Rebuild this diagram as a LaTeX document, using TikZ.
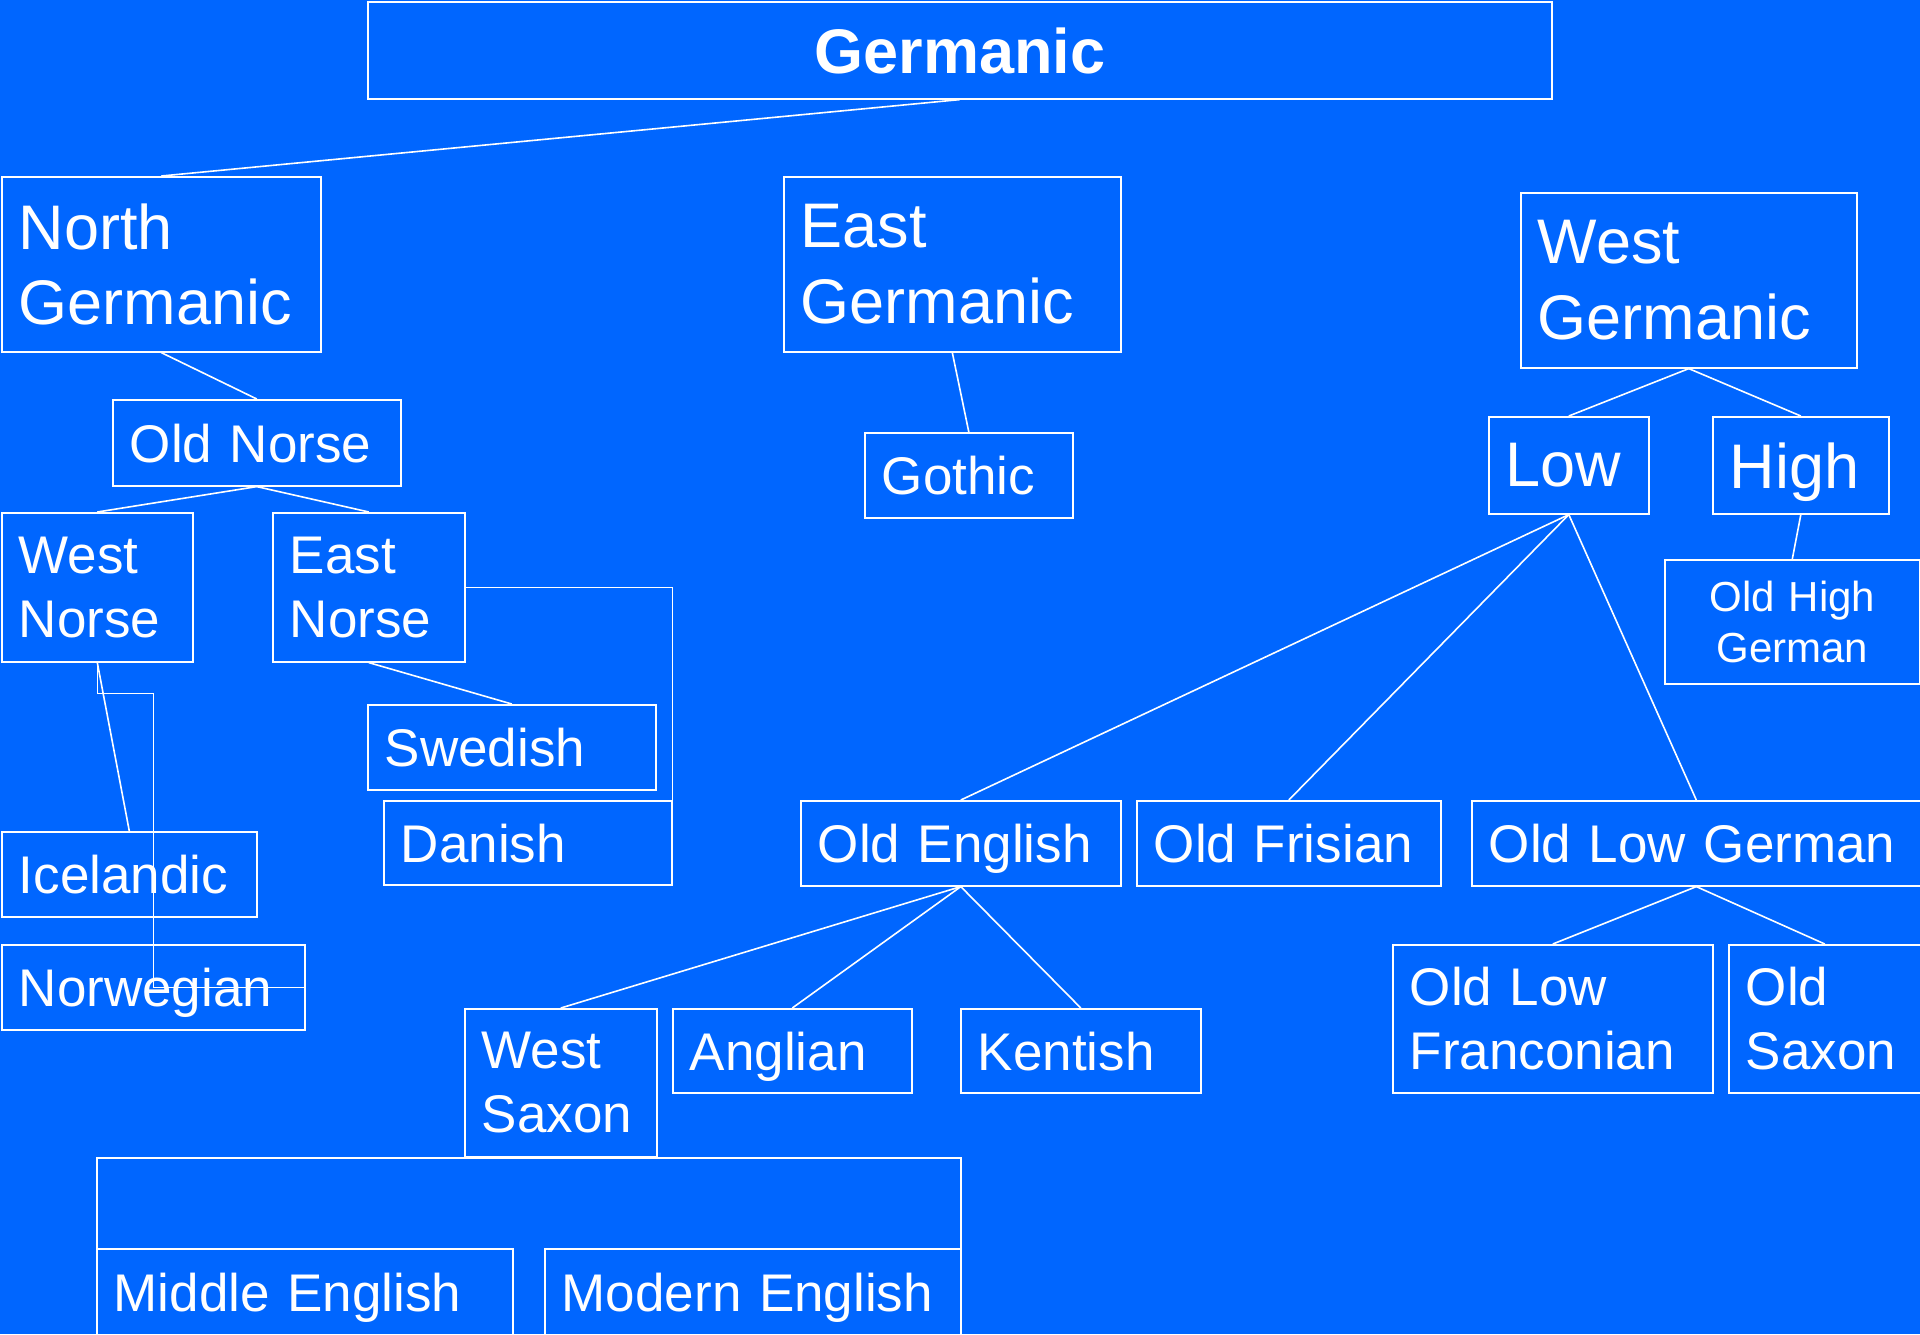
\documentclass[tikz,border=0pt]{standalone}
\usepackage{fontspec}
\setmainfont{Liberation Sans}
\definecolor{bgblue}{RGB}{0,102,255}
\newcommand\fbig{\fontsize{31.5pt}{37.8pt}\selectfont}
\newcommand\fmid{\fontsize{26.5pt}{31.8pt}\selectfont}
\newcommand\fsml{\fontsize{21pt}{25.2pt}\selectfont}
\begin{document}
\begin{tikzpicture}[x=0.5pt,y=-0.5pt,
  bx/.style={draw=white, line width=0.8pt, text=white, anchor=north west,
    inner xsep=8.5pt, inner ysep=0pt, align=left, font=\fmid},
  one/.style={text depth=0pt},
  ln/.style={draw=white, line width=0.8pt}]
\fill[bgblue] (0,0) rectangle (1920,1334);
\useasboundingbox (0,0) rectangle (1920,1334);

\node[bx, font=\fbig\bfseries, align=center, one, minimum width=592pt, minimum height=48.5pt, text width=575pt] (germ) at (367,1) {Germanic};

\node[bx, font=\fbig, minimum width=159.5pt, minimum height=87.5pt, text width=142.5pt] (ng) at (1,176) {North\\Germanic};
\node[bx, font=\fbig, minimum width=168.5pt, minimum height=87.5pt, text width=151.5pt] (eg) at (783,176) {East\\Germanic};
\node[bx, font=\fbig, minimum width=168pt, minimum height=87.5pt, text width=151pt] (wg) at (1520,192) {West\\Germanic};

\node[bx, one, minimum width=144pt, minimum height=43pt, text width=127pt] (on) at (112,399) {Old Norse};
\node[bx, minimum width=95.5pt, minimum height=74.5pt, text width=78.5pt] (wn) at (1,512) {West\\Norse};
\node[bx, minimum width=96pt, minimum height=74.5pt, text width=79pt] (en) at (272,512) {East\\Norse};
\node[bx, one, minimum width=144pt, minimum height=42.5pt, text width=127pt] (sw) at (367,704) {Swedish};
\node[bx, one, minimum width=144pt, minimum height=42pt, text width=127pt] (da) at (383,800) {Danish};
\node[bx, one, minimum width=127.5pt, minimum height=42.5pt, text width=110.5pt] (ic) at (1,831) {Icelandic};
\node[bx, one, minimum width=151.5pt, minimum height=42.5pt, text width=134.5pt] (nw) at (1,944) {Norwegian};

\node[bx, one, minimum width=104pt, minimum height=42.5pt, text width=87pt] (go) at (864,432) {Gothic};

\node[bx, font=\fbig, one, minimum width=80pt, minimum height=48.5pt, text width=63pt] (low) at (1488,416) {Low};
\node[bx, font=\fbig, one, minimum width=88pt, minimum height=48.5pt, text width=71pt] (high) at (1712,416) {High};
\node[bx, font=\fsml, align=center, minimum width=127.5pt, minimum height=62pt, text width=110.5pt] (ohg) at (1664,559) {Old High\\German};

\node[bx, one, minimum width=160pt, minimum height=42.5pt, text width=143pt] (oe) at (800,800) {Old English};
\node[bx, one, minimum width=152pt, minimum height=42.5pt, text width=135pt] (of) at (1136,800) {Old Frisian};
\node[bx, one, minimum width=224.5pt, minimum height=42.5pt, text width=207.5pt] (olg) at (1471,800) {Old Low German};
\node[bx, minimum width=160pt, minimum height=74pt, text width=143pt] (olf) at (1392,944) {Old Low\\Franconian};
\node[bx, minimum width=96pt, minimum height=74pt, text width=79pt] (os) at (1728,944) {Old\\Saxon};

\node[bx, minimum width=96pt, minimum height=74pt, text width=79pt] (ws) at (464,1008) {West\\Saxon};
\node[bx, one, minimum width=119.5pt, minimum height=42pt, text width=102.5pt] (an) at (672,1008) {Anglian};
\node[bx, one, minimum width=120pt, minimum height=42pt, text width=103pt] (ke) at (960,1008) {Kentish};

\node[bx, minimum width=432pt, minimum height=89pt, text width=415pt] (big) at (96,1157) {};
\node[bx, one, minimum width=208pt, minimum height=43pt, text width=191pt] (me) at (96,1248) {Middle English};
\node[bx, one, minimum width=208pt, minimum height=43pt, text width=191pt] (mo) at (544,1248) {Modern English};

% connectors
\draw[ln] (germ.south) -- (ng.north);
\draw[ln] (ng.south) -- (on.north);
\draw[ln] (on.south) -- (wn.north);
\draw[ln] (on.south) -- (en.north);
\draw[ln] (en.south) -- (sw.north);
\draw[ln] (en.east) -| (da.north east);
\draw[ln] (wn.south) -- (ic.north);
\draw[ln] (wn.south) -- ++(0,31) -| (nw.center) -- (nw.east);
\draw[ln] (eg.south) -- (go.north);
\draw[ln] (wg.south) -- (low.north);
\draw[ln] (wg.south) -- (high.north);
\draw[ln] (high.south) -- (ohg.north);
\draw[ln] (low.south) -- (oe.north);
\draw[ln] (low.south) -- (of.north);
\draw[ln] (low.south) -- (olg.north);
\draw[ln] (olg.south) -- (olf.north);
\draw[ln] (olg.south) -- (os.north);
\draw[ln] (oe.south) -- (ws.north);
\draw[ln] (oe.south) -- (an.north);
\draw[ln] (oe.south) -- (ke.north);
\end{tikzpicture}
\end{document}
